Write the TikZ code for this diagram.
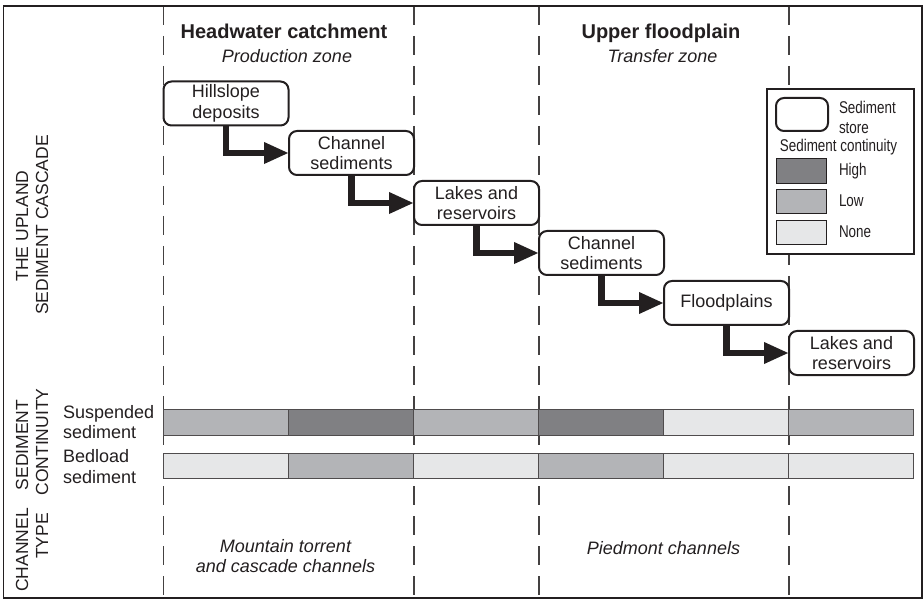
\documentclass[tikz,border=0pt]{standalone}
\usepackage{fontspec}
\setmainfont{Liberation Sans}
\newfontfamily\narrowfont[FakeStretch=0.79]{Liberation Sans}
\usetikzlibrary{arrows.meta}
\definecolor{ink}{HTML}{231F20}
\definecolor{contHigh}{HTML}{808083}
\definecolor{contLow}{HTML}{B3B4B7}
\definecolor{contNone}{HTML}{E6E7E8}
\begin{document}
\begin{tikzpicture}[x=1pt,y=-1pt,
  every node/.style={text=ink, inner sep=0pt, outer sep=0pt},
  txt/.style={font=\fontsize{18}{20.5}\selectfont, align=center},
  head/.style={font=\fontsize{20}{24}\selectfont\bfseries, anchor=base},
  sub/.style={font=\fontsize{18}{21}\selectfont\itshape, anchor=base},
  side/.style={font=\fontsize{17.5}{21}\selectfont, rotate=90, anchor=base},
  store/.style={draw=ink, line width=2pt, rounded corners=8pt, fill=white,
    minimum width=125pt, minimum height=44pt, font=\fontsize{18}{20.5}\selectfont, align=center},
  flow/.style={draw=ink, line width=6.5pt, -{Triangle[length=25pt,width=20pt]}},
  divider/.style={draw=ink!85, line width=1.3pt, dash pattern=on 19pt off 11pt},
  bar/.style={draw=ink!80, line width=1pt},
  legfont/.style={font=\fontsize{17}{20}\selectfont\narrowfont},
  leg/.style={legfont, align=left, anchor=west}
]
\useasboundingbox (0,0) rectangle (923,601);
\fill[white] (0,0) rectangle (923,601);

% dividers
\foreach \xx in {163.5,414,539,789}
  \draw[divider] (\xx,6) -- (\xx,598);

% frame
\draw[ink, line width=1.5pt] (3.5,6) rectangle (922,598);

% headers
\node[head] (hc) at (284,38.5) {Headwater catchment};
\node[sub] (pz) at (287,63) {Production zone};
\node[head] (uf) at (661,38.5) {Upper floodplain};
\node[sub] (tz) at (662.5,63) {Transfer zone};

% side labels
\node[side] (s1a) at (28,226) {THE UPLAND};
\node[side] (s1b) at (48,225) {SEDIMENT CASCADE};
\node[side] (s2a) at (28,445) {SEDIMENT};
\node[side] (s2b) at (48,442) {CONTINUITY};
\node[side] (s3a) at (28,550) {CHANNEL};
\node[side] (s3b) at (48,536) {TYPE};

% row labels
\node[txt, align=left, anchor=west] (susp) at (63,422) {Suspended\\sediment};
\node[txt, align=left, anchor=west] (bed) at (63,466.5) {Bedload\\sediment};

% bars
\foreach \c [count=\i from 0] in {contLow,contHigh,contLow,contHigh,contNone,contLow}
  \draw[bar, fill=\c] (163.5+125.08*\i,409) rectangle (163.5+125.08*\i+125.08,435);
\foreach \c [count=\i from 0] in {contNone,contLow,contNone,contLow,contNone,contNone}
  \draw[bar, fill=\c] (163.5+125.08*\i,453) rectangle (163.5+125.08*\i+125.08,478);

% channel type texts
\node[txt, font=\fontsize{18}{20}\selectfont\itshape] (mt) at (285.5,556.5) {Mountain torrent\\and cascade channels};
\node[sub] (pc) at (663.5,554) {Piedmont channels};

% sediment stores
\node[store] (hill) at (226,103.5) {Hillslope\\deposits};
\node[store] (ch1) at (351.5,153) {Channel\\sediments};
\node[store] (lk1) at (476.5,203) {Lakes and\\reservoirs};
\node[store] (ch2) at (601.5,253) {Channel\\sediments};
\node[store] (fp) at (726.5,303) {Floodplains};
\node[store] (lk2) at (851.5,353) {Lakes and\\reservoirs};

\draw[flow] (hill.south) |- (ch1.west);
\draw[flow] (ch1.south) |- (lk1.west);
\draw[flow] (lk1.south) |- (ch2.west);
\draw[flow] (ch2.south) |- (fp.west);
\draw[flow] (fp.south) |- (lk2.west);

% legend
\draw[ink, line width=1.3pt, fill=white] (767,89) rectangle (914,254);
\draw[ink, line width=2pt, rounded corners=8pt] (776,98) rectangle (828,131);
\node[leg] (lstore) at (839,117.5) {Sediment\\store};
\node[legfont, anchor=base] (lcont) at (838.5,152) {Sediment continuity};
\draw[ink, line width=0.9pt, fill=contHigh] (776,158) rectangle (826,183);
\draw[ink, line width=0.9pt, fill=contLow] (776,189) rectangle (826,213);
\draw[ink, line width=0.9pt, fill=contNone] (776,220) rectangle (826,244);
\node[legfont, anchor=base west] (lh) at (839,176) {High};
\node[legfont, anchor=base west] (ll) at (839,207) {Low};
\node[legfont, anchor=base west] (ln) at (839,238) {None};
\end{tikzpicture}
\end{document}
